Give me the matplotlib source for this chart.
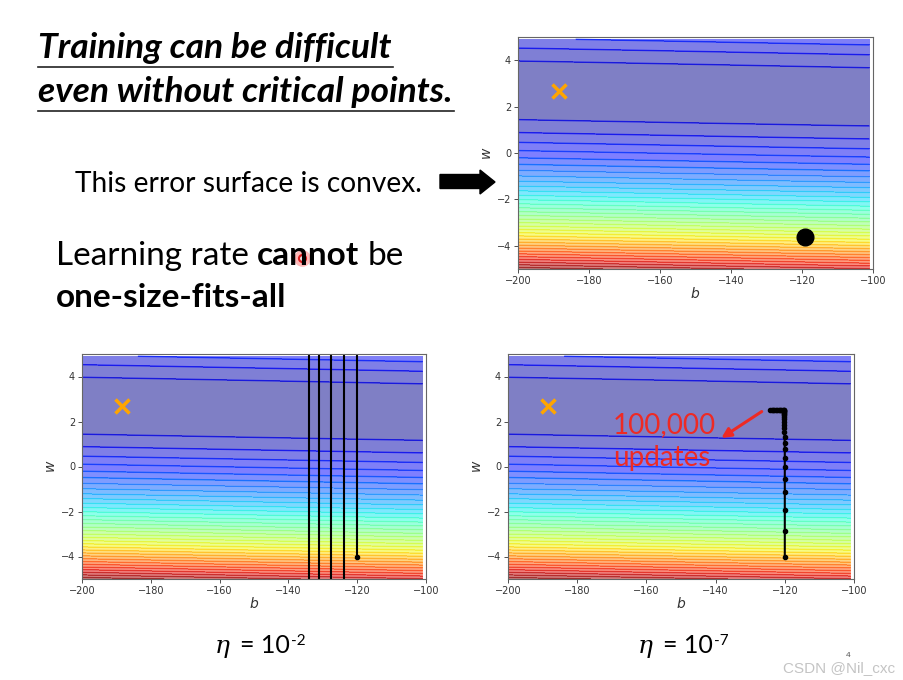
import numpy as np
import matplotlib
matplotlib.use("Agg")
import matplotlib.pyplot as plt
from matplotlib.patches import Polygon

# ---------------- data ----------------
x_data = [338., 333., 328., 207., 226., 25., 179., 60., 208., 606.]
y_data = [640., 633., 619., 393., 428., 27., 193., 66., 226., 1591.]
b_axis = np.arange(-200, -100, 1)
w_axis = np.arange(-5, 5, 0.1)

target_b, target_w = -188.4, 2.67
start_b, start_w = -119.1, -3.6

# eta = 1e-2 trajectory (oscillates far outside the view)
big_lr_b = [-120.0, -120.0, -123.9, -123.9, -127.5, -127.5, -131.0, -131.0, -133.9, -133.9]
big_lr_w = [-4.0, 60.0, 60.0, -60.0, -60.0, 60.0, 60.0, -60.0, -60.0, 60.0]

# eta = 1e-7 trajectory
small_lr_b = [-120.0, -120.0, -120.0, -120.0, -120.0, -120.0, -120.0, -120.0, -120.05,
              -120.05, -120.1, -120.1, -120.1, -120.15, -120.15, -120.2, -120.2, -120.2,
              -120.25, -120.25, -120.3, -120.3, -120.3, -120.3,
              -120.6, -121.0, -121.4, -121.8, -122.2, -122.6, -123.0, -123.4, -123.8, -124.3]
small_lr_w = [-4.0, -2.87, -1.95, -1.15, -0.55, -0.02, 0.40, 0.78, 1.06,
              1.32, 1.52, 1.70, 1.86, 1.99, 2.10, 2.19, 2.27, 2.33,
              2.38, 2.42, 2.45, 2.47, 2.49, 2.50,
              2.50, 2.51, 2.51, 2.51, 2.51, 2.52, 2.52, 2.52, 2.52, 2.52]

x_ticks = [-200, -180, -160, -140, -120, -100]
y_ticks = [-4, -2, 0, 2, 4]

# ---------------- figure ----------------
W, H = 904, 680
fig = plt.figure(figsize=(W / 100, H / 100), dpi=100)
fig.patch.set_facecolor("white")

B, Wg = np.meshgrid(b_axis, w_axis)
xd = np.array(x_data)[:, None, None]
yd = np.array(y_data)[:, None, None]
Z = np.mean((yd - B - Wg * xd) ** 2, axis=0)
jet = plt.get_cmap("jet")


def px_axes(left, right, top, bottom):
    return fig.add_axes([left / W, 1 - bottom / H, (right - left) / W, (bottom - top) / H])


def seam_color(v):
    r, g, b, _ = jet(min(1.0, v + 0.06))
    return (r, g, b, 0.6 if v < 0.2 else 0.28)


def draw_surface(ax):
    cf = ax.contourf(B, Wg, Z, 50, alpha=0.5, cmap=jet)
    # seams between filled bands
    lv = cf.levels[1:-1]
    cols = [seam_color(float(cf.norm(cf.layers[i + 1]))) for i in range(len(lv))]
    ax.contour(B, Wg, Z, levels=lv, colors=cols, linewidths=1.1)
    ax.plot([target_b], [target_w], "x", ms=10, markeredgewidth=2.5, color="orange")
    ax.set_xlim(-200, -100)
    ax.set_ylim(-5, 5)
    ax.set_xticks(x_ticks)
    ax.set_yticks(y_ticks)
    ax.tick_params(labelsize=7, length=3, width=0.6, colors="#333333", pad=2)
    ax.set_xlabel(r"$b$", fontsize=10, labelpad=0, color="#333333")
    ax.set_ylabel(r"$w$", fontsize=10, labelpad=2, color="#333333")
    for s in ax.spines.values():
        s.set_color("#666666")
        s.set_linewidth(0.8)


ax1 = px_axes(518, 873, 37, 269)
draw_surface(ax1)
ax1.plot([start_b], [start_w], "o", ms=12, color="black")

ax2 = px_axes(82, 426, 354, 579)
draw_surface(ax2)
ax2.plot(big_lr_b, big_lr_w, "o-", ms=3, lw=1.5, color="black")

ax3 = px_axes(508, 854, 354, 579)
draw_surface(ax3)
ax3.plot(small_lr_b, small_lr_w, "o-", ms=3, lw=1.5, color="black")
ax3.annotate("", xy=(-139.0, 1.2), xytext=(-126.0, 2.51),
             arrowprops=dict(arrowstyle="-|>", color="#ee2a24", lw=2.2, mutation_scale=14))

# ---------------- overlay in pixel coordinates ----------------
ov = fig.add_axes([0, 0, 1, 1], zorder=5)
ov.set_xlim(0, W)
ov.set_ylim(H, 0)
ov.axis("off")
ov.patch.set_alpha(0)

renderer = fig.canvas.get_renderer()


def put(x, y, s, **kw):
    t = ov.text(x, y, s, ha="left", va="baseline", **kw)
    return t, t.get_window_extent(renderer).width


def measure(s, **kw):
    t, w = put(100, 100, s, **kw)
    t.remove()
    return w


def fit(x, y, s, target, **kw):
    t, w = put(x, y, s, **kw)
    t.set_fontsize(t.get_fontsize() * target / w)
    return t, t.get_window_extent(renderer).width


def runs(x, y, parts, size, base):
    """Place consecutive text runs; returns start x of each and total width."""
    cx = x
    starts = []
    for i, (s, extra) in enumerate(parts):
        kw = dict(base)
        kw.update(extra)
        t, w = put(cx, y, s, fontsize=size, **kw)
        starts.append(cx)
        cx += w
        if i < len(parts) - 1:
            cx += measure("a a", fontsize=size, **kw) - measure("aa", fontsize=size, **kw)
    return starts, cx - x


# title
title_kw = dict(family="Lato", weight="bold", style="italic", color="black")
t1, w1 = fit(38, 58, "Training can be difficult", 353, fontsize=20, **title_kw)
fs_title = t1.get_fontsize()
t2, w2 = put(38, 102, "even without critical points.", fontsize=fs_title, **title_kw)
ov.plot([38, 38 + w1 + 2], [67, 67], color="#222222", lw=1.2)
ov.plot([38, 38 + w2 + 2], [111, 111], color="#222222", lw=1.2)

# body text
body_kw = dict(family="Lato", color="black")
t3, w3 = fit(75, 192, "This error surface is convex.", 347, fontsize=20, **body_kw)

lr_parts = [("Learning rate", {}), ("cannot", {"weight": "bold"}), ("be", {})]
tot = (measure("Learning rate", fontsize=20, **body_kw)
       + measure("cannot", fontsize=20, weight="bold", **body_kw)
       + measure("be", fontsize=20, **body_kw)
       + 2 * (measure("a a", fontsize=20, **body_kw) - measure("aa", fontsize=20, **body_kw)))
fs_lr = 20 * 349 / tot
starts, _ = runs(56, 265, lr_parts, fs_lr, body_kw)
put(56, 307, "one-size-fits-all", fontsize=fs_lr, weight="bold", **body_kw)

# laser pointer dot on the first "n" of "cannot"
dot_x = starts[1] + measure("ca", fontsize=fs_lr, weight="bold", **body_kw) \
    + 0.6 * measure("n", fontsize=fs_lr, weight="bold", **body_kw)
ov.plot([dot_x], [258], "o", ms=12, color="#ff8080", alpha=0.55, mec="none")
ov.plot([dot_x], [258], "o", ms=5, mfc="white", mec="#e02020", mew=1.6)

# black arrow
arrow = Polygon([(440, 174.5), (480, 174.5), (480, 170), (495, 182), (480, 194),
                 (480, 188.5), (440, 188.5)], closed=True, facecolor="black", edgecolor="black")
ov.add_patch(arrow)

# red annotation text
red = "#ee2a24"
put(613, 433, "100,000", family="Lato", fontsize=20, color=red)
put(613, 466, "updates", family="Lato", fontsize=20, color=red)

# eta labels
for x0, sup in [(215, "-2"), (638, "-7")]:
    put(x0, 653, "\u03b7", family="DejaVu Serif", style="italic", fontsize=18, color="black")
    _, wm = put(x0 + 25, 653, "= 10", family="Lato", fontsize=18, color="black")
    put(x0 + 25 + wm + 1, 645, sup, family="Lato", fontsize=11, color="black")

# watermark
put(783, 672, "CSDN @Nil_cxc", family="Liberation Sans", fontsize=11, color="#c4c4c4")
put(846, 657, "4", family="Liberation Sans", fontsize=6, color="#555555")

fig.savefig("out.png", dpi=100)
